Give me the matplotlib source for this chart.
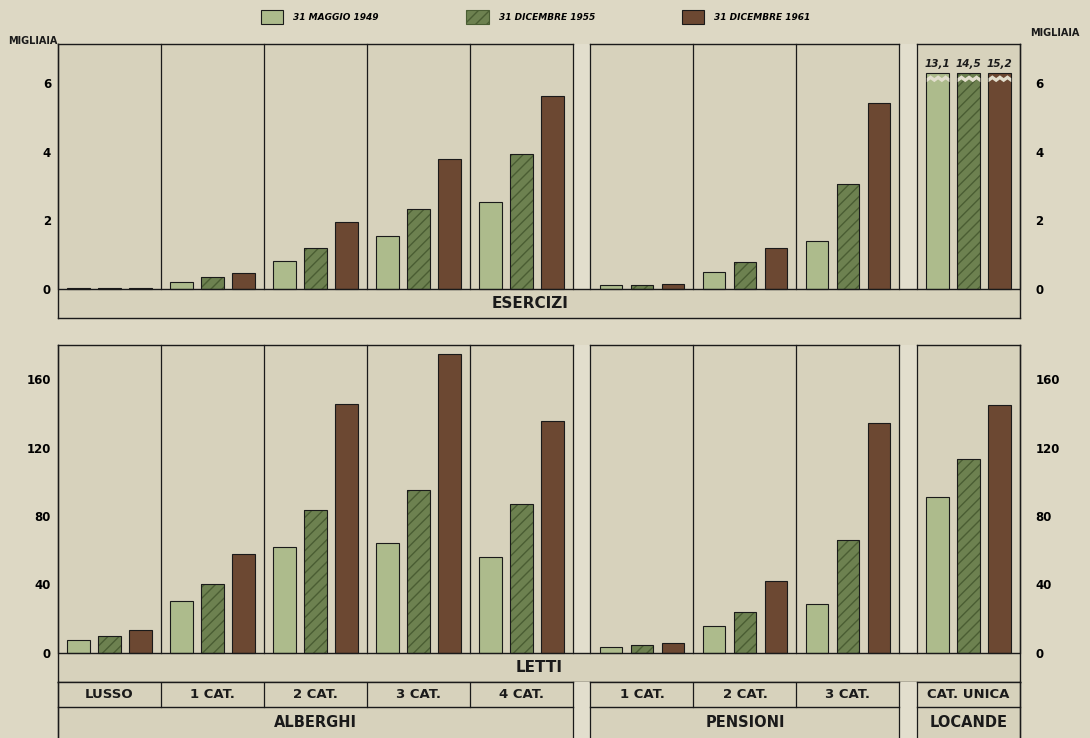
import matplotlib
matplotlib.use("Agg")
import matplotlib.pyplot as plt
from matplotlib.patches import Patch
import numpy as np

# categorie e gruppi
gruppi = ["ALBERGHI", "PENSIONI", "LOCANDE"]
categorie = [
    ["LUSSO", "1 CAT.", "2 CAT.", "3 CAT.", "4 CAT."],
    ["1 CAT.", "2 CAT.", "3 CAT."],
    ["CAT. UNICA"],
]
date = ["31 MAGGIO 1949", "31 DICEMBRE 1955", "31 DICEMBRE 1961"]

# esercizi (migliaia)
esercizi_1949 = [0.03, 0.20, 0.80, 1.54, 2.53, 0.10, 0.50, 1.41, 13.1]
esercizi_1955 = [0.03, 0.34, 1.19, 2.33, 3.95, 0.12, 0.78, 3.07, 14.5]
esercizi_1961 = [0.04, 0.46, 1.95, 3.78, 5.64, 0.15, 1.20, 5.43, 15.2]

# letti (migliaia)
letti_1949 = [7.4, 30.4, 62.0, 64.0, 56.0, 3.5, 16.0, 28.5, 91.0]
letti_1955 = [10.1, 40.5, 83.4, 95.0, 87.3, 4.5, 24.0, 65.8, 113.5]
letti_1961 = [13.4, 57.7, 145.6, 175.0, 135.5, 5.8, 42.0, 134.2, 145.0]

# colori
BG = "#ddd8c4"
CELL = "#d7d2bc"
GAP = "#e2decd"
C49 = "#adbb8c"
C55 = "#6d8150"
H55 = "#4a5d33"
C61 = "#6c4832"
INK = "#1a1a1a"

plt.rcParams["font.family"] = ["DejaVu Sans"]
plt.rcParams["hatch.linewidth"] = 1.0

W, H = 1090, 738
fig = plt.figure(figsize=(W / 100, H / 100), dpi=100)
fig.patch.set_facecolor(BG)


def box(x0, y0, x1, y1):
    return [x0 / W, 1 - y1 / H, (x1 - x0) / W, (y1 - y0) / H]


# posizioni delle celle (unita' = una cella)
GAPW = 0.17
group_start = []
starts = []
pos = 0.0
for cats in categorie:
    group_start.append(pos)
    for i in range(len(cats)):
        starts.append(pos + i)
    pos += len(cats) + GAPW
XMAX = pos - GAPW
starts = np.array(starts)
centres = starts + 0.5
OFF = 0.3
BW = 0.22
AX_L, AX_R = 58, 1020


def px_to_x(px):
    return (px - AX_L) / (AX_R - AX_L) * XMAX


def frame(ax, ytop):
    for gs, cats in zip(group_start, categorie):
        n = len(cats)
        ax.plot([gs, gs + n], [ytop, ytop], color=INK, lw=1.0, clip_on=False, zorder=4)
        for i in range(n + 1):
            ax.plot([gs + i, gs + i], [0, ytop], color=INK, lw=0.9, zorder=4, clip_on=False)
        if gs + n < XMAX:
            ax.fill_between([gs + n, gs + n + GAPW], 0, ytop, color=GAP, lw=0, zorder=1)
    ax.axhline(0, color=INK, lw=1.0, zorder=4)


def panel(ax, v49, v55, v61, ylim, ticks, cap=None):
    ax.set_facecolor(CELL)
    ax.set_xlim(0, XMAX)
    ax.set_ylim(*ylim)
    ax.spines["top"].set_visible(False)
    for s in ["left", "right", "bottom"]:
        ax.spines[s].set_color(INK)
        ax.spines[s].set_linewidth(1.0)
    ax.set_xticks([])
    ax.set_yticks(ticks)
    ax.set_yticklabels([str(t) for t in ticks])
    ax.tick_params(axis="y", length=0, pad=5, labelsize=8.5)
    for lab in ax.get_yticklabels():
        lab.set_fontweight("bold")
    ax2 = ax.twinx()
    ax2.set_ylim(*ylim)
    ax2.set_yticks(ticks)
    ax2.set_yticklabels([str(t) for t in ticks])
    ax2.tick_params(axis="y", length=0, pad=11, labelsize=8.5)
    for lab in ax2.get_yticklabels():
        lab.set_fontweight("bold")
    for s in ax2.spines.values():
        s.set_visible(False)

    frame(ax, ylim[1])

    vals = [np.array(v49), np.array(v55), np.array(v61)]
    shown = [np.minimum(v, cap) if cap else v for v in vals]
    ax.bar(centres - OFF, shown[0], BW, color=C49, edgecolor=INK, lw=0.8, zorder=3)
    ax.bar(centres, shown[1], BW, color=C55, edgecolor=H55, hatch="///", lw=0, zorder=3)
    ax.bar(centres, shown[1], BW, fill=False, edgecolor=INK, lw=0.8, zorder=3)
    ax.bar(centres + OFF, shown[2], BW, color=C61, edgecolor=INK, lw=0.8, zorder=3)

    if cap:
        for k, (v, s) in enumerate(zip(vals, shown)):
            for i in np.where(v > cap)[0]:
                xc = centres[i] + (k - 1) * OFF
                zx = np.linspace(xc - BW / 2, xc + BW / 2, 7)
                zy = cap - 0.25 + np.array([0, 0.08, 0, 0.08, 0, 0.08, 0])
                ax.fill_between(zx, zy, zy + 0.12, color=GAP, zorder=5, lw=0)
                ax.text(xc, cap + 0.12, f"{v[i]:.1f}".replace(".", ","), ha="center",
                        va="bottom", fontsize=7.5, fontweight="bold", style="italic",
                        color=INK, zorder=6)
    return ax


# pannello superiore: esercizi
ax_top = fig.add_axes(box(AX_L, 44, AX_R, 318))
panel(ax_top, esercizi_1949, esercizi_1955, esercizi_1961,
      (-0.85, 7.15), [0, 2, 4, 6], cap=6.3)
ax_top.text(px_to_x(530), -0.43, "ESERCIZI", ha="center", va="center",
            fontsize=11, fontweight="bold", color=INK)

# pannello inferiore: letti
ax_bot = fig.add_axes(box(AX_L, 345, AX_R, 682))
panel(ax_bot, letti_1949, letti_1955, letti_1961,
      (-17.0, 180.0), [0, 40, 80, 120, 160])
ax_bot.text(px_to_x(539), -8.5, "LETTI", ha="center", va="center",
            fontsize=11, fontweight="bold", color=INK)

# righe delle etichette
ax_lab = fig.add_axes(box(AX_L, 682, AX_R, 738))
ax_lab.set_facecolor(CELL)
ax_lab.set_xlim(0, XMAX)
ax_lab.set_ylim(0, 1)
ax_lab.set_xticks([])
ax_lab.set_yticks([])
for s in ["top", "bottom"]:
    ax_lab.spines[s].set_visible(False)
for s in ["left", "right"]:
    ax_lab.spines[s].set_color(INK)
    ax_lab.spines[s].set_linewidth(1.0)
b = 31 / 56
for gs, cats, g in zip(group_start, categorie, gruppi):
    n = len(cats)
    for yy in (1, b):
        ax_lab.plot([gs, gs + n], [yy, yy], color=INK, lw=1.0, clip_on=False)
    ax_lab.plot([gs, gs], [0, 1], color=INK, lw=0.9, clip_on=False)
    ax_lab.plot([gs + n, gs + n], [0, 1], color=INK, lw=0.9, clip_on=False)
    for i in range(1, n):
        ax_lab.plot([gs + i, gs + i], [b, 1], color=INK, lw=0.9)
    for i, c in enumerate(cats):
        ax_lab.text(gs + i + 0.5, (1 + b) / 2, c, ha="center", va="center",
                    fontsize=9.5, fontweight="bold", color=INK)
    ax_lab.text(gs + n / 2, b / 2, g, ha="center", va="center",
                fontsize=10.5, fontweight="bold", color=INK)
    if gs + n < XMAX:
        ax_lab.fill_between([gs + n, gs + n + GAPW], 0, 1, color=GAP, lw=0)

# unita' di misura
fig.text(8 / W, 1 - 41 / H, "MIGLIAIA", fontsize=7, fontweight="bold", va="center", color=INK)
fig.text(1030 / W, 1 - 33 / H, "MIGLIAIA", fontsize=7, fontweight="bold", va="center", color=INK)

# legenda
handles = [
    Patch(facecolor=C49, edgecolor=INK, lw=0.8),
    Patch(facecolor=C55, edgecolor=H55, hatch="///", lw=0.8),
    Patch(facecolor=C61, edgecolor=INK, lw=0.8),
]
fig.legend(handles, date, loc="center", bbox_to_anchor=(536 / W, 1 - 17 / H), ncol=3,
           frameon=False, columnspacing=9.7, handlelength=2.45, handleheight=2.1,
           handletextpad=1.1, prop={"size": 6.5, "weight": "bold", "style": "italic"})

fig.savefig("out.png", dpi=100, facecolor=BG)
